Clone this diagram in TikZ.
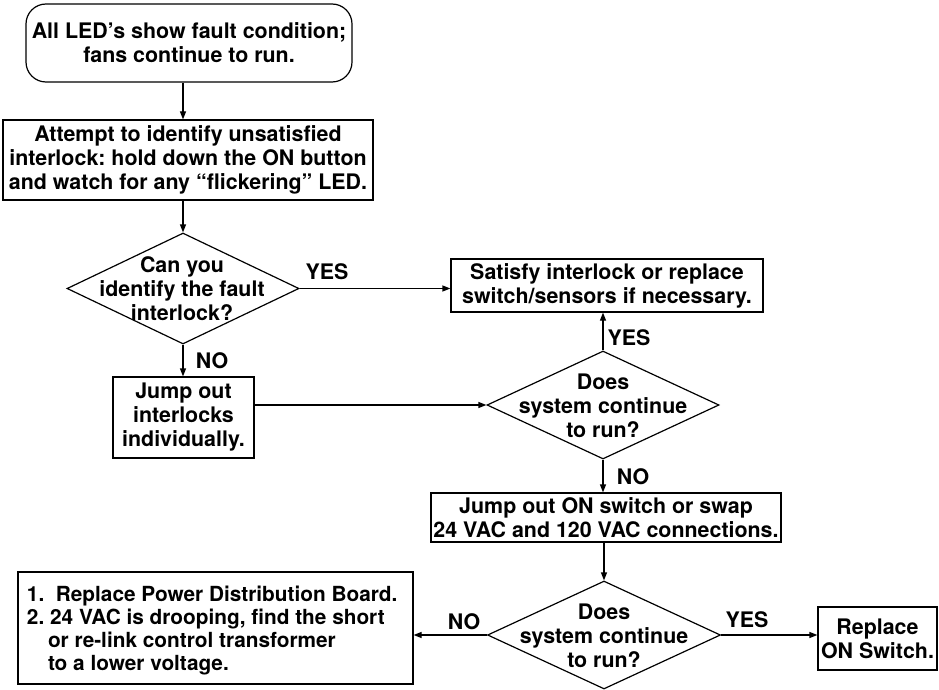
\documentclass[tikz,border=0pt]{standalone}
\usepackage{fontspec}
\setmainfont{TeX Gyre Heros}
\usetikzlibrary{shapes.geometric,arrows.meta}
\begin{document}
\frenchspacing
\begin{tikzpicture}[x=1pt,y=-1pt,
  font=\fontsize{21.4}{24}\selectfont\bfseries,
  line width=1.2pt,
  >={Triangle[length=8pt,width=6pt]}]
\tikzset{
  box/.style={draw, rectangle, inner sep=0pt, align=center},
  dia/.style={draw, diamond, inner sep=0pt},
  txt/.style={inner sep=0pt, align=center},
  lbl/.style={inner sep=0pt},
  flow/.style={->}
}
\useasboundingbox (0,0) rectangle (939,690);

% boxes
\node[box, rounded corners=20pt, minimum width=326pt, minimum height=78pt] (b1) at (189,43)
  {All LED’s show fault condition;\\fans continue to run.};
\node[box, minimum width=370pt, minimum height=80pt] (b2) at (188,160)
  {Attempt to identify unsatisfied\\interlock: hold down the ON button\\and watch for any “flickering” LED.};
\node[dia, minimum width=232pt, minimum height=111pt] (d1) at (183,288.5) {};
\node[txt] (d1t) at (182,289) {Can you\\identify the fault\\interlock?};
\node[box, minimum width=312pt, minimum height=53pt] (sat) at (607,285.5)
  {Satisfy interlock or replace\\switch/sensors if necessary.};
\node[box, minimum width=141pt, minimum height=81pt] (jump) at (183.5,417.5)
  {Jump out\\interlocks\\individually.};
\node[dia, minimum width=232pt, minimum height=108pt] (d2) at (603,405) {};
\node[txt] (d2t) at (603,406) {Does\\system continue\\to run?};
\node[box, minimum width=350pt, minimum height=49pt] (jon) at (606,517.5)
  {Jump out ON switch or swap\\24 VAC and 120 VAC connections.};
\node[dia, minimum width=233pt, minimum height=108pt] (d3) at (604,635) {};
\node[txt] (d3t) at (604,636) {Does\\system continue\\to run?};
\node[box, minimum width=395pt, minimum height=112pt] (lb) at (215.5,628) {};
\node[txt, align=left, anchor=west, font=\fontsize{20.8}{23}\selectfont\bfseries] (lbt) at ([xshift=9pt,yshift=-3pt]lb.west)
  {1.\ \ Replace Power Distribution Board.\\
   2. 24 VAC is drooping, find the short\\
   \hspace*{21pt}or re-link control transformer\\
   \hspace*{21pt}to a lower voltage.};
\node[box, minimum width=119pt, minimum height=63pt] (rep) at (877.5,638.5)
  {Replace\\ON Switch.};

% labels
\node[lbl] (yes1) at (327,272) {YES};
\node[lbl] (no1) at (212,361) {NO};
\node[lbl] (yes2) at (629,338) {YES};
\node[lbl] (no2) at (633,477) {NO};
\node[lbl] (no3) at (464,622) {NO};
\node[lbl] (yes3) at (747,620) {YES};

% connectors
\draw[flow] (d1.north |- b1.south) -- (d1.north |- b2.north);
\draw[flow] (d1.north |- b2.south) -- (d1.north);
\draw[flow] (d1.east) -- (d1.east -| sat.west);
\draw[flow] (d1.south) -- (d1.south |- jump.north);
\draw[flow] (d2.west -| jump.east) -- (d2.west);
\draw[flow] (d2.north) -- (d2.north |- sat.south);
\draw[flow] (d2.south) -- (d2.south |- jon.north);
\draw[flow] (d3.north |- jon.south) -- (d3.north);
\draw[flow] (d3.west) -- (d3.west -| lb.east);
\draw[flow] (d3.east) -- (d3.east -| rep.west);
\end{tikzpicture}
\end{document}
